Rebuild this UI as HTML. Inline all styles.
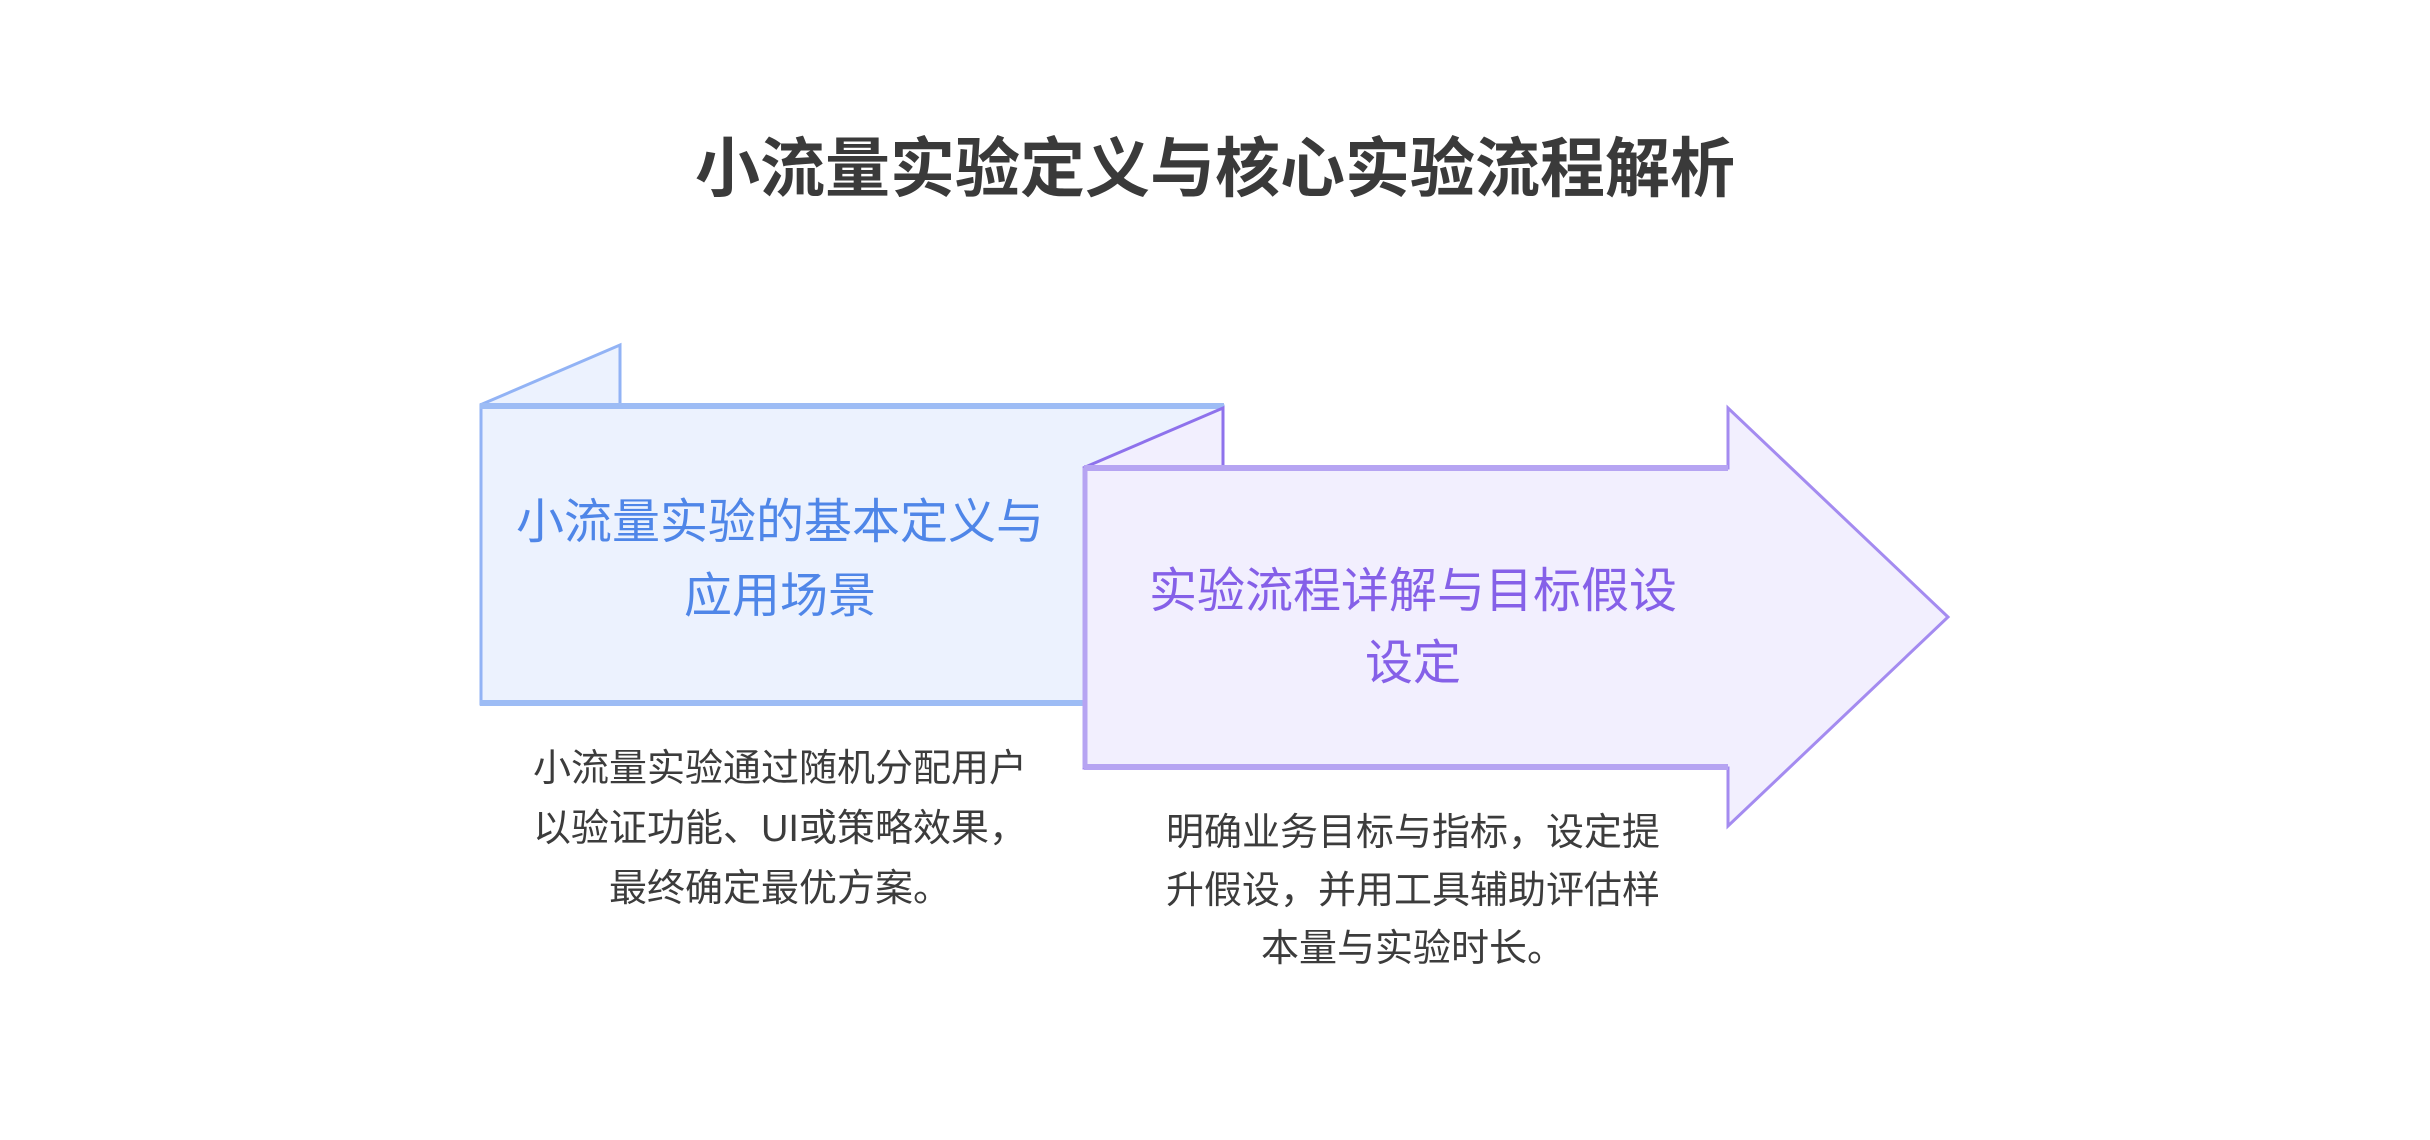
<!DOCTYPE html>
<html><head><meta charset="utf-8"><style>
html,body{margin:0;padding:0;background:#fff;}
body{width:2430px;height:1140px;position:relative;overflow:hidden;font-family:"Liberation Sans","Noto Sans CJK SC",sans-serif;}
.t{position:absolute;text-align:center;white-space:nowrap;transform:translate(-50%,-50%);}
</style></head><body>
<svg width="2430" height="1140" style="position:absolute;left:0;top:0">
<polygon points="480,405 620,345 620,405" fill="#ecf2fe" stroke="#92b3f5" stroke-width="3"/>
<rect x="481" y="406" width="742" height="298" fill="#ecf2fe" stroke="#92b3f5" stroke-width="3"/>
<line x1="480" y1="406" x2="1224" y2="406" stroke="#9dbcf5" stroke-width="6"/>
<line x1="480" y1="703" x2="1084" y2="703" stroke="#9dbcf5" stroke-width="6"/>
<polygon points="1083,468 1223,408 1223,468" fill="#f2effe" stroke="#8e72ec" stroke-width="3"/>
<polygon points="1084,468 1728,468 1728,408 1948,617 1728,826 1728,768 1084,768" fill="#f2effe" stroke="#a48bf0" stroke-width="3"/>
<line x1="1084" y1="468" x2="1728" y2="468" stroke="#b6a4f2" stroke-width="6"/>
<line x1="1084" y1="767" x2="1728" y2="767" stroke="#b6a4f2" stroke-width="6"/>
<line x1="1085" y1="468" x2="1085" y2="768" stroke="#b6a4f2" stroke-width="5"/>
</svg>
<div class="t" style="left:1215px;top:163px;font-size:65px;font-weight:bold;color:#3a3a3a;">小流量实验定义与核心实验流程解析</div>
<div class="t" style="left:780px;top:560px;font-size:48px;line-height:74px;color:#4f86e8;">小流量实验的基本定义与<br>应用场景</div>
<div class="t" style="left:1413px;top:628px;font-size:48px;line-height:72px;color:#8560e8;">实验流程详解与目标假设<br>设定</div>
<div class="t" style="left:780px;top:829px;font-size:38px;line-height:60px;color:#3c3c3c;">小流量实验通过随机分配用户<br>以验证功能、UI或策略效果，<br>最终确定最优方案。</div>
<div class="t" style="left:1413px;top:891px;font-size:38px;line-height:58px;color:#3c3c3c;">明确业务目标与指标，设定提<br>升假设，并用工具辅助评估样<br>本量与实验时长。</div>
</body></html>
